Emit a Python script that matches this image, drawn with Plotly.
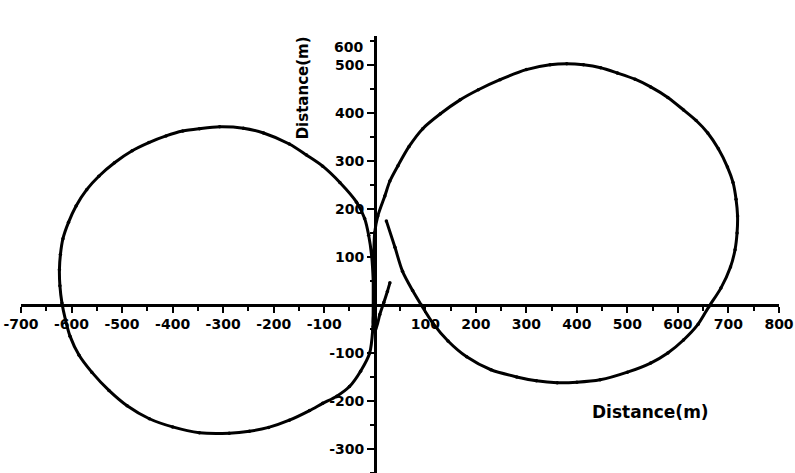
import plotly.graph_objects as go

# Trajectory (metres), one continuous path
path_x = [23, 40, 55, 75, 92, 115, 145, 182, 230, 281, 320, 361, 400, 446, 500, 546, 580, 611, 640, 661,
          685, 704, 713, 717, 718, 715, 709, 698, 680, 659, 636, 611, 580, 546, 515, 480, 447, 413, 380, 347,
          300, 248, 205, 169, 130, 95, 68, 46, 30, 20, 6, 0, -2, -3, -3, -4,
          -10, -28, -50, -75, -103, -129, -169, -210, -248, -288, -347, -400, -446, -490, -526, -560, -585,
          -603, -612, -619, -623, -624, -622, -617, -606, -591, -570, -546, -515, -480, -447, -413, -380, -347,
          -307, -260, -220, -169, -135, -103, -69, -36, -20, -12, -6, -3, -2, -3, 2, 10, 18, 25, 30]
path_y = [175, 120, 70, 30, 0, -38, -75, -108, -135, -150, -158, -162, -161, -156, -140, -121, -100, -73, -40, -4,
          35, 79, 115, 150, 185, 220, 255, 287, 325, 358, 384, 406, 432, 454, 470, 483, 494, 500, 502, 500,
          490, 469, 448, 427, 398, 367, 330, 290, 258, 227, 185, 151, 100, 50, 0, -52,
          -100, -138, -170, -190, -205, -220, -240, -255, -263, -267, -266, -254, -237, -210, -178, -140, -105,
          -65, -31, 4, 40, 73, 105, 138, 172, 206, 240, 268, 296, 321, 338, 352, 362, 367,
          371, 368, 358, 335, 312, 289, 255, 214, 180, 145, 101, 50, 0, -45, -50, -20, 5, 28, 46]

x_ticks = [-700, -600, -500, -400, -300, -200, -100, 0, 100, 200, 300, 400, 500, 600, 700, 800]
x_labels = ["-700", "-600", "-500", "-400", "-300", "-200", "-100", "", "100", "200", "300", "400",
            "500", "600", "700", "800"]
y_ticks = [-300, -200, -100, 0, 100, 200, 300, 400, 500]
y_labels = ["-300", "-200", "-100", "", "100", "200", "300", "400", "500"]
y_top_label = "600"
axis_title = "Distance(m)"

X_RANGE = [-700, 800]
Y_RANGE = [-350, 560]

tickfont = dict(family="DejaVu Sans", size=14, color="black", weight="bold")

fig = go.Figure()
fig.add_trace(go.Scatter(
    x=path_x, y=path_y, mode="lines+markers",
    line=dict(color="black", width=3, shape="spline", smoothing=0.8),
    marker=dict(color="black", size=3.5),
    showlegend=False, hoverinfo="skip",
))

x_pos = (0 - Y_RANGE[0]) / (Y_RANGE[1] - Y_RANGE[0])
y_pos = (0 - X_RANGE[0]) / (X_RANGE[1] - X_RANGE[0])

fig.update_layout(
    width=795, height=473,
    margin=dict(l=21, r=16, t=36, b=0),
    paper_bgcolor="white", plot_bgcolor="white",
    xaxis=dict(
        range=X_RANGE, anchor="free", position=x_pos,
        showgrid=False, zeroline=False, showline=True, linecolor="black", linewidth=2.5,
        tickmode="array", tickvals=x_ticks, ticktext=x_labels,
        ticks="outside", ticklen=6, tickwidth=2, tickcolor="black",
        minor=dict(ticks="outside", dtick=50, tick0=0, ticklen=4, tickwidth=2, tickcolor="black"),
        tickfont=tickfont,
    ),
    yaxis=dict(
        range=Y_RANGE, anchor="free", position=y_pos,
        showgrid=False, zeroline=False, showline=True, linecolor="black", linewidth=2.5,
        tickmode="array", tickvals=y_ticks, ticktext=y_labels,
        ticks="outside", ticklen=7, tickwidth=2, tickcolor="black",
        minor=dict(ticks="outside", dtick=50, tick0=0, ticklen=4, tickwidth=2, tickcolor="black"),
        tickfont=tickfont,
    ),
    annotations=[
        dict(x=0, y=537, xref="x", yref="y", text=y_top_label, showarrow=False,
             xanchor="right", xshift=-10, font=tickfont),
        dict(x=546, y=-223, xref="x", yref="y", text=axis_title, showarrow=False,
             font=dict(family="DejaVu Sans", size=17, color="black", weight="bold")),
        dict(x=-143, y=452, xref="x", yref="y", text=axis_title, showarrow=False, textangle=-90,
             font=dict(family="DejaVu Sans", size=15, color="black", weight="bold")),
    ],
)

fig.write_html("out.html")
